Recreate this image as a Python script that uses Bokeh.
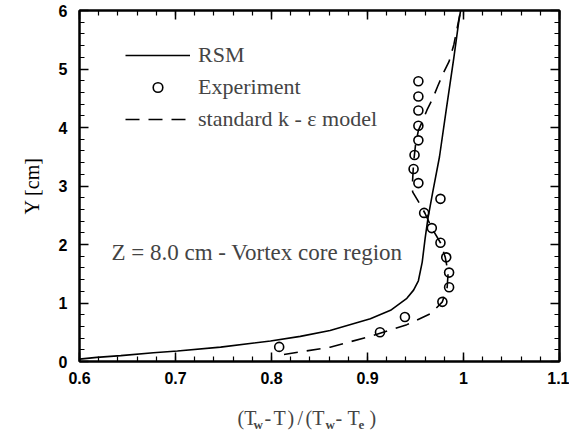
from bokeh.plotting import figure
from bokeh.layouts import column
from bokeh.models import (FixedTicker, LinearAxis, Range1d, Label, Legend,
                          LegendItem, CustomJSTickFormatter)
from bokeh.embed import file_html
from bokeh.resources import INLINE

# ---------------- data ----------------
rsm_x = [0.600, 0.618, 0.643, 0.677, 0.702, 0.747, 0.799, 0.830, 0.861, 0.903,
         0.924, 0.941, 0.948, 0.953, 0.957, 0.960, 0.963, 0.968, 0.975, 0.982,
         0.990, 0.995, 0.997]
rsm_y = [0.04, 0.07, 0.10, 0.15, 0.18, 0.245, 0.35, 0.43, 0.53, 0.73,
         0.875, 1.08, 1.22, 1.38, 1.70, 2.10, 2.45, 2.90, 3.50, 4.30,
         5.20, 5.80, 6.00]

ke_x = [0.813, 0.861, 0.903, 0.941, 0.966, 0.978, 0.983, 0.984, 0.981, 0.976,
        0.967, 0.960, 0.955, 0.947, 0.947, 0.948, 0.950, 0.953, 0.957, 0.962,
        0.968, 0.973, 0.979, 0.985, 0.990, 0.994, 0.997]
ke_y = [0.12, 0.245, 0.43, 0.63, 0.82, 1.02, 1.27, 1.52, 1.78, 2.03,
        2.28, 2.53, 2.68, 2.90, 3.10, 3.40, 3.70, 3.95, 4.10, 4.30,
        4.50, 4.70, 4.93, 5.13, 5.42, 5.75, 6.00]

exp_x = [0.808, 0.913, 0.939, 0.978, 0.985, 0.985, 0.982, 0.976, 0.967, 0.959,
         0.976, 0.953, 0.948, 0.949, 0.953, 0.953, 0.953, 0.953, 0.953]
exp_y = [0.25, 0.50, 0.76, 1.02, 1.27, 1.52, 1.78, 2.03, 2.28, 2.54,
         2.78, 3.05, 3.29, 3.53, 3.78, 4.03, 4.29, 4.53, 4.79]

x_ticks = [0.6, 0.7, 0.8, 0.9, 1.0, 1.1]
y_ticks = [0, 1, 2, 3, 4, 5, 6]
x_minor = [round(0.6 + 0.02 * i, 2) for i in range(26)]
y_minor = [round(0.2 * i, 1) for i in range(31)]

# x-axis title pieces: (text, is_subscript)
xlabel_pieces = [("(T", False), ("w", True), ("-", False), ("T", False), (")", False),
                 ("/", False), ("(T", False), ("w", True), ("-", False), ("T", False),
                 ("e", True), (")", False)]
xlabel_left_px = [237, 253, 264, 273, 287, 297, 305, 325, 335, 347, 358, 369]

# ---------------- layout ----------------
W = 569
H_MAIN, H_LAB = 392, 40
L, R, T, B = 79, 10, 10, 31
XMIN, XMAX, YMIN, YMAX = 0.6, 1.1, 0.0, 6.0
FW, FH = W - L - R, H_MAIN - T - B


def dx(px):
    return XMIN + (px - L) / FW * (XMAX - XMIN)


def dy(py):
    return YMIN + (H_MAIN - B - py) / FH * (YMAX - YMIN)


SERIF = "Liberation Serif"
SANS = "Liberation Sans"

p = figure(width=W, height=H_MAIN, x_range=Range1d(XMIN, XMAX), y_range=Range1d(YMIN, YMAX),
           output_backend="svg", toolbar_location=None,
           min_border_left=L, min_border_right=R, min_border_top=T, min_border_bottom=B)
p.grid.visible = False
p.outline_line_color = "black"
p.outline_line_width = 2
p.background_fill_color = "white"
p.border_fill_color = "white"

fmt = CustomJSTickFormatter(code="return String(Math.round(tick*10)/10);")
empty = CustomJSTickFormatter(code="return '';")


def style(ax, major, minor, labels=True):
    ax.ticker = FixedTicker(ticks=major, minor_ticks=minor)
    ax.major_tick_in = 9
    ax.major_tick_out = 0
    ax.minor_tick_in = 5
    ax.minor_tick_out = 0
    ax.major_tick_line_width = 1.5
    ax.minor_tick_line_width = 1.2
    ax.axis_line_width = 2
    ax.major_label_text_font = SANS
    ax.major_label_text_font_style = "bold"
    ax.major_label_text_font_size = "16px"
    ax.major_label_text_color = "black"
    if not labels:
        ax.formatter = empty
        ax.major_label_standoff = 0
        ax.major_label_text_font_size = "0px"


xa = p.xaxis[0]
ya = p.yaxis[0]
style(xa, x_ticks, x_minor)
style(ya, y_ticks, y_minor)
xa.formatter = fmt
xa.major_label_standoff = 10
ya.major_label_standoff = 12
ya.axis_label = "Y [cm]"
ya.axis_label_text_font = SERIF
ya.axis_label_text_font_style = "normal"
ya.axis_label_text_font_size = "20px"
ya.axis_label_text_color = "black"
ya.axis_label_standoff = 13

top = LinearAxis()
right = LinearAxis()
style(top, x_ticks, x_minor, labels=False)
style(right, y_ticks, y_minor, labels=False)
p.add_layout(top, "above")
p.add_layout(right, "right")

# ---------------- glyphs ----------------
r_rsm = p.line(rsm_x, rsm_y, line_color="black", line_width=1.6)
r_exp = p.scatter(exp_x, exp_y, marker="circle", size=9, fill_color=None,
                  line_color="black", line_width=1.6)
r_ke = p.line(ke_x, ke_y, line_color="black", line_width=1.6, line_dash="14 9")

legend = Legend(items=[LegendItem(label="RSM", renderers=[r_rsm]),
                       LegendItem(label="Experiment", renderers=[r_exp]),
                       LegendItem(label="standard k - \u03b5 model", renderers=[r_ke])],
                location=(46, 229), border_line_color=None, background_fill_alpha=0,
                label_text_font=SERIF, label_text_font_size="22px",
                glyph_width=65, glyph_height=24, label_height=24, spacing=6,
                padding=0, margin=0, label_standoff=8)
p.add_layout(legend)

p.add_layout(Label(x=dx(111), y=dy(252), text="Z = 8.0 cm - Vortex core region",
                   text_font=SERIF, text_font_size="23px", text_baseline="alphabetic"))

# ---------------- x-axis title strip (frame aligned with the main plot) ----------------
p2 = figure(width=W, height=H_LAB, x_range=Range1d(L, W - R), y_range=Range1d(0, H_LAB),
            output_backend="svg", toolbar_location=None,
            min_border_left=L, min_border_right=R, min_border_top=0, min_border_bottom=0)
p2.axis.visible = False
p2.grid.visible = False
p2.outline_line_color = None
p2.background_fill_color = "white"
p2.border_fill_color = "white"

main_base = H_LAB - (417 - H_MAIN)
sub_base = H_LAB - (424 - H_MAIN)
for (txt, sub), px in zip(xlabel_pieces, xlabel_left_px):
    p2.add_layout(Label(x=px, y=sub_base if sub else main_base, text=txt,
                        text_font=SERIF, text_font_size="13px" if sub else "20px",
                        text_font_style="bold" if sub else "normal",
                        text_baseline="alphabetic", text_align="left"))

layout = column(p, p2, spacing=0)
open("out.html", "w").write(file_html(layout, INLINE))
